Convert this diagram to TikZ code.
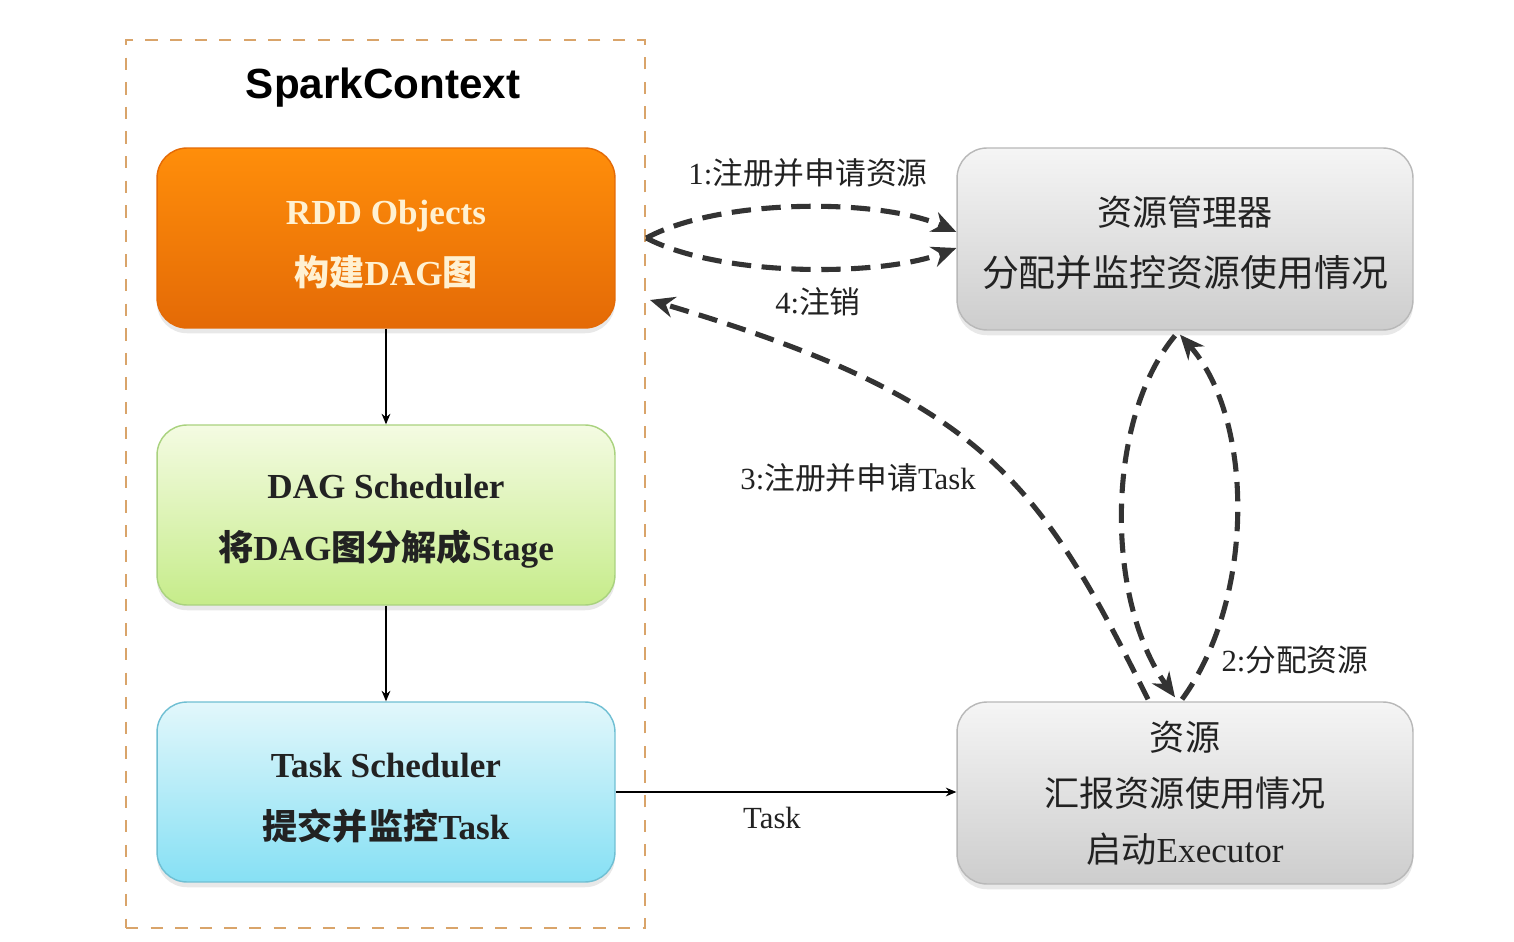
\documentclass[tikz,border=0pt]{standalone}
\usepackage{fontspec}
\setmainfont{Liberation Serif}
\newfontfamily\cjk{Noto Sans CJK SC}
\newfontfamily\titlefont{Liberation Sans}
\usetikzlibrary{arrows.meta,shadows,calc}
\newcommand\zh[1]{{\cjk #1}}
\newcommand\up{\rule{0pt}{21pt}}
\definecolor{ctxline}{HTML}{D9A46A}
\definecolor{rddtop}{HTML}{FF8E0A}
\definecolor{rddbot}{HTML}{E46A06}
\definecolor{rddtxt}{HTML}{FFF1D2}
\definecolor{dagtop}{HTML}{F4FBE2}
\definecolor{dagbot}{HTML}{C6EC8A}
\definecolor{dagline}{HTML}{A9D27E}
\definecolor{tsktop}{HTML}{E2F7FB}
\definecolor{tskbot}{HTML}{86E0F4}
\definecolor{tskline}{HTML}{6FBFD3}
\definecolor{grytop}{HTML}{F5F5F5}
\definecolor{grybot}{HTML}{CDCDCD}
\definecolor{gryline}{HTML}{B8B8B8}
\definecolor{dark}{HTML}{222222}
\definecolor{arrowc}{HTML}{333333}
\begin{document}
\begin{tikzpicture}[x=0.02cm,y=-0.02cm,
  box/.style={rounded corners=0.6cm, minimum width=9.16cm, minimum height=3.6cm,
    inner sep=0pt, align=center, line width=0.8pt,
    drop shadow={shadow xshift=0pt,shadow yshift=-3pt,opacity=0.18}},
  lefttxt/.style={font=\fontsize{20}{35}\selectfont\bfseries},
  thinarrow/.style={draw=black, line width=0.7pt, -{Stealth[length=6pt,width=5pt]}},
  dasharrow/.style={draw=arrowc, line width=2.9pt, dash pattern=on 11pt off 6pt,
    -{Stealth[length=14pt,width=12pt]}},
  lbl/.style={text=dark, font=\fontsize{17.5}{20}\selectfont, inner sep=0pt}
]
\useasboundingbox (0,0) rectangle (1514,942);
\fill[white] (0,0) rectangle (1514,942);

% container
\node[draw=ctxline, line width=1.6pt, dash pattern=on 7pt off 7pt,
  minimum width=10.38cm, minimum height=17.76cm, inner sep=0pt] (ctx) at (385.5,484) {};
\node[font=\titlefont\fontsize{24}{28}\selectfont\bfseries, text=black] (title) at (383,88) {SparkContext};

% left boxes
\node[box, lefttxt, draw=rddbot, top color=rddtop, bottom color=rddbot, text=rddtxt] (rdd) at (386,238)
  {\up RDD Objects\\\zh{构建}DAG\zh{图}};
\node[box, lefttxt, draw=dagline, top color=dagtop, bottom color=dagbot, text=dark] (dag) at (386,515)
  {\up DAG Scheduler\\\zh{将}DAG\zh{图分解成}Stage};
\node[box, lefttxt, draw=tskline, top color=tsktop, bottom color=tskbot, text=dark] (task) at (386,792)
  {\up Task Scheduler\\\zh{提交并监控}Task};

% right boxes
\node[box, minimum width=9.12cm, minimum height=3.64cm, draw=gryline, top color=grytop, bottom color=grybot,
  text=dark, font=\fontsize{20}{35}\selectfont] (rm) at (1185,239)
  {\up\zh{资源管理器}\\\zh{\fontsize{21}{35}\selectfont 分配并监控资源使用情况}};
\node[box, minimum width=9.12cm, minimum height=3.64cm, draw=gryline, top color=grytop, bottom color=grybot,
  text=dark, font=\fontsize{20}{32}\selectfont] (res) at (1185,793)
  {\zh{资源}\\\zh{汇报资源使用情况}\\\zh{启动}Executor};

% solid arrows
\draw[thinarrow] (rdd.south) -- (dag.north);
\draw[thinarrow] (dag.south) -- (task.north);
\draw[thinarrow] (task.east) -- (task.east -| res.west);
\node[text=dark, font=\fontsize{17.5}{20}\selectfont] (tasklbl) at (772,818) {Task};

% dashed arrows
\coordinate (s1) at (ctx.east |- rdd.east);
\draw[dasharrow] (s1) .. controls (720,198) and (880,198) .. ($(rm.west)+(0,-7)$);
\draw[dasharrow] (s1) .. controls (720,277) and (880,277) .. ($(rm.west)+(0,9)$);
\node[lbl] (l1) at (808,173) {1:\zh{注册并申请资源}};

\coordinate (s4) at (650,300);
\draw[dasharrow] ($(res.north)+(-37,-2)$) .. controls (1038,478) and (982,399) .. (s4);
\node[lbl] (l4) at (818,302) {4:\zh{注销}};
\node[lbl] (l3) at (858,478) {3:\zh{注册并申请}Task};

\draw[dasharrow] ($(rm.south)+(-10,5)$) .. controls (1105,420) and (1105,600) .. ($(res.north)+(-10,-4)$);
\draw[dasharrow] ($(res.north)+(-3,-2)$) .. controls (1255,600) and (1255,420) .. ($(rm.south)+(-5,4)$);
\node[lbl] (l2) at (1295,660) {2:\zh{分配资源}};
\end{tikzpicture}
\end{document}
